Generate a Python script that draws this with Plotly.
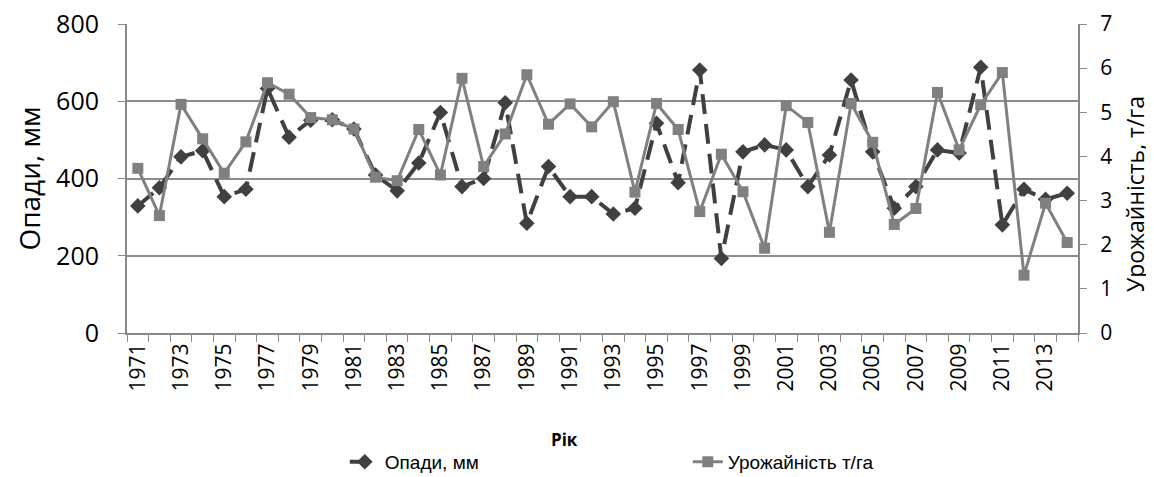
import plotly.graph_objects as go

years = list(range(1971, 2015))
precip = [329, 376, 456, 472, 353, 372, 633, 507, 551, 552, 528, 409, 368, 440, 571,
          379, 400, 596, 284, 431, 353, 353, 308, 323, 543, 389, 681, 193, 469, 487,
          474, 379, 461, 655, 469, 323, 379, 474, 466, 688, 280, 372, 346, 362]
yield_t = [3.73, 2.66, 5.18, 4.40, 3.62, 4.33, 5.67, 5.41, 4.88, 4.83, 4.62, 3.53, 3.45, 4.61, 3.58,
           5.77, 3.77, 4.51, 5.85, 4.73, 5.19, 4.67, 5.24, 3.19, 5.20, 4.61, 2.75, 4.05, 3.20, 1.92,
           5.15, 4.77, 2.28, 5.20, 4.32, 2.46, 2.82, 5.45, 4.15, 5.17, 5.90, 1.31, 2.94, 2.05]

cats = [str(y) for y in years]
ticktext = [str(y) if i % 2 == 0 else "" for i, y in enumerate(years)]

fig = go.Figure()
fig.add_trace(go.Scatter(
    x=cats, y=precip, name="Опади, мм", mode="lines+markers",
    line=dict(color="#404040", width=4, dash="20px,10px"),
    marker=dict(symbol="diamond", size=12, color="#404040"),
    yaxis="y"))
fig.add_trace(go.Scatter(
    x=cats, y=yield_t, name="Урожайність т/га", mode="lines+markers",
    line=dict(color="#808080", width=3),
    marker=dict(symbol="square", size=11, color="#808080"),
    yaxis="y2"))

axis_font = "Open Sans, Liberation Sans, sans-serif"
# page body has an 8px margin, so the figure is offset by 8px
fig.update_layout(
    width=1146, height=469,
    margin=dict(l=119, r=76, t=16, b=144, autoexpand=False),
    paper_bgcolor="white", plot_bgcolor="white",
    font=dict(family=axis_font, color="black"),
    xaxis=dict(
        type="category", tickmode="array", tickvals=cats, ticktext=ticktext,
        tickson="boundaries", ticks="outside", ticklen=7, tickcolor="#888888",
        tickangle=-90, tickfont=dict(size=21, family=axis_font),
        showline=True, linecolor="#888888", linewidth=2, showgrid=False,
        range=[-0.5, len(cats) - 0.5], automargin=False),
    yaxis=dict(
        range=[0, 800], dtick=200, tickfont=dict(size=25, family=axis_font),
        showgrid=True, gridcolor="#8c8c8c", gridwidth=2,
        showline=True, linecolor="#888888", linewidth=2,
        ticks="outside", ticklen=7, tickcolor="#888888",
        ticklabelstandoff=14, ticklabeloverflow="allow",
        zeroline=False, automargin=False),
    yaxis2=dict(
        range=[0, 7], dtick=1, overlaying="y", side="right",
        tickfont=dict(size=21, family=axis_font), showgrid=False,
        showline=True, linecolor="#888888", linewidth=2,
        ticks="outside", ticklen=7, tickcolor="#888888",
        ticklabelstandoff=9, ticklabeloverflow="allow",
        zeroline=False, automargin=False),
    legend=dict(orientation="h", x=0.229, xanchor="left", y=-0.417, yanchor="middle",
                font=dict(size=19, family="Liberation Sans, Arial, sans-serif"),
                entrywidth=298, entrywidthmode="pixels", bgcolor="rgba(0,0,0,0)"),
    showlegend=True,
    annotations=[
        dict(text="<b>Рік</b>", xref="paper", yref="paper", x=0.46, y=-0.346,
             xanchor="center", yanchor="middle", showarrow=False,
             font=dict(size=17, family=axis_font)),
        dict(text="Опади, мм", xref="paper", yref="paper", x=-0.104, y=0.5,
             xanchor="center", yanchor="middle", showarrow=False, textangle=-90,
             font=dict(size=28, family=axis_font)),
        dict(text="Урожайність, т/га", xref="paper", yref="paper", x=1.06, y=0.45,
             xanchor="center", yanchor="middle", showarrow=False, textangle=-90,
             font=dict(size=23, family=axis_font)),
    ],
)

fig.write_html("out.html")
